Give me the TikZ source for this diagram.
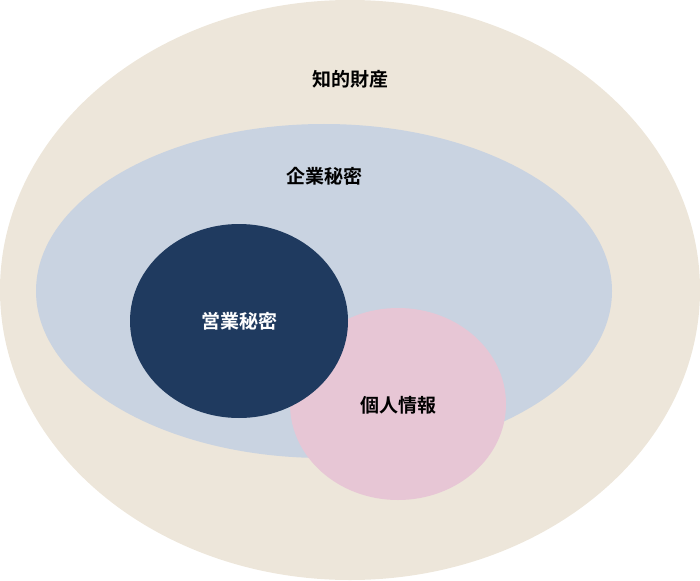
\documentclass[tikz,border=0pt]{standalone}
\usepackage{fontspec}
\usetikzlibrary{shapes.geometric}
\newfontfamily\cjk{Noto Sans CJK JP}[BoldFont={Noto Sans CJK JP Bold}]
\definecolor{outerc}{HTML}{EDE6DA}
\definecolor{bluec}{HTML}{C9D3E1}
\definecolor{navyc}{HTML}{1F3A5F}
\definecolor{pinkc}{HTML}{E7C6D5}
\tikzset{lbl/.style={font=\cjk\bfseries\fontsize{19pt}{22pt}\selectfont}}
\begin{document}
\begin{tikzpicture}[x=1pt,y=-1pt]
\useasboundingbox (0,0) rectangle (700,580);
\node[ellipse,fill=outerc,minimum width=700,minimum height=580,inner sep=0] (outer) at (350,290) {};
\node[ellipse,fill=bluec,minimum width=576,minimum height=334,inner sep=0] (blue) at (324,291) {};
\node[ellipse,fill=pinkc,minimum width=216,minimum height=192,inner sep=0] (pink) at (398,404) {};
\node[ellipse,fill=navyc,minimum width=218,minimum height=194,inner sep=0] (navy) at (239,321) {};
\node[lbl] (t1) at (350,79) {知的財産};
\node[lbl] (t2) at (324,176) {企業秘密};
\node[lbl,text=white] (t3) at (239,321) {営業秘密};
\node[lbl] (t4) at (398,405) {個人情報};
\end{tikzpicture}
\end{document}
